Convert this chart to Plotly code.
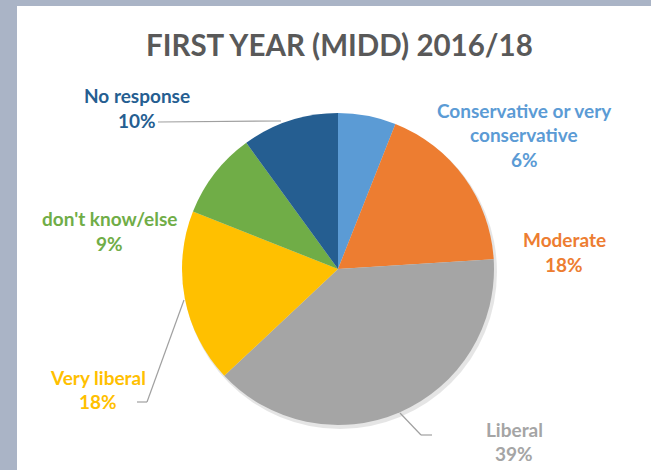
import plotly.graph_objects as go

# ---- data ----
categories = ["Conservative or very conservative", "Moderate", "Liberal",
              "Very liberal", "don't know/else", "No response"]
values = [6, 18, 39, 18, 9, 10]
label_lines = [["Conservative or very", "conservative"], ["Moderate"], ["Liberal"],
               ["Very liberal"], ["don't know/else"], ["No response"]]
colors = ["#5B9BD5", "#ED7D31", "#A5A5A5", "#FFC000", "#70AD47", "#255E91"]
label_colors = ["#5B9BD5", "#ED7D31", "#A5A5A5", "#FFC000", "#70AD47", "#255E91"]
title_text = "FIRST YEAR (MIDD) 2016/18"

# ---- layout helpers (pixel positions in a 651x470 canvas) ----
W, H = 651, 470
def px(x):
    return x / W
def py(y):
    return 1 - y / H

# label block centres (x, y of first line), line spacing
label_pos = [(524, 110), (564, 240), (514, 429), (98, 377), (109, 219), (137, 96)]
line_gap = 24.5
leaders = [
    None, None,
    [(400, 413), (421, 435), (432, 435)],
    [(137, 402), (147, 402), (184, 300)],
    None,
    [(158, 122), (281, 121)],
]

FONT = "Lato"
fig = go.Figure()
fig.add_trace(go.Pie(
    labels=categories, values=values, sort=False, direction="clockwise",
    rotation=0, marker=dict(colors=colors, line=dict(width=0)),
    textinfo="none", hoverinfo="label+percent",
    domain=dict(x=[px(182), px(494)], y=[py(425), py(113)]),
    showlegend=False,
))

total = sum(values)
annotations = []
for i, lines in enumerate(label_lines):
    pct = f"{round(values[i] / total * 100)}%"
    all_lines = lines + [pct]
    cx, cy = label_pos[i]
    for j, t in enumerate(all_lines):
        annotations.append(dict(
            x=px(cx), y=py(cy + j * line_gap), xref="paper", yref="paper",
            text=f"<b>{t}</b>", showarrow=False, xanchor="center", yanchor="middle",
            font=dict(family=FONT, size=19, color=label_colors[i]),
        ))
annotations.append(dict(
    x=px(339), y=py(45), xref="paper", yref="paper", text=f"<b>{title_text}</b>",
    showarrow=False, xanchor="center", yanchor="middle",
    font=dict(family=FONT, size=29.5, color="#595959"),
))

shapes = [
    dict(type="rect", xref="paper", yref="paper", x0=px(17), x1=1.01,
         y0=-0.01, y1=py(6), fillcolor="white", line=dict(width=0), layer="below"),
    # soft drop shadow under the pie
    dict(type="circle", xref="paper", yref="paper", x0=px(183), x1=px(497),
         y0=py(429), y1=py(115), fillcolor="rgba(0,0,0,0.10)", line=dict(width=0),
         layer="below"),
]
for ld in leaders:
    if ld is None:
        continue
    for (x0, y0), (x1, y1) in zip(ld[:-1], ld[1:]):
        shapes.append(dict(type="line", xref="paper", yref="paper",
                           x0=px(x0), y0=py(y0), x1=px(x1), y1=py(y1),
                           line=dict(color="#A0A0A0", width=1.2)))

fig.update_layout(
    width=W, height=H, margin=dict(l=0, r=0, t=0, b=0),
    paper_bgcolor="#AAB4C6", plot_bgcolor="white",
    annotations=annotations, shapes=shapes,
)
fig.write_html("out.html", config={"displayModeBar": False},
               post_script="document.body.style.margin='0';document.body.style.overflow='hidden';")
